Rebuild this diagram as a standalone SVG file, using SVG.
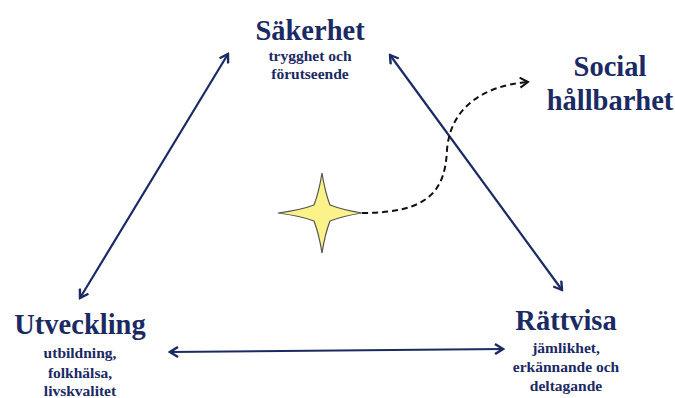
<svg xmlns="http://www.w3.org/2000/svg" width="675" height="398" viewBox="0 0 675 398">
<style>
.t{font-family:"Liberation Serif","Times New Roman",serif;font-weight:bold;fill:#1b2a63;text-anchor:middle}
.h{font-size:28.5px}
.s{font-size:15.5px}
.ln{stroke:#1b2a63;stroke-width:2.2;fill:none}
</style>
<defs>
<marker id="ah" viewBox="0 0 12 12" refX="10" refY="6" markerWidth="12" markerHeight="12" markerUnits="userSpaceOnUse" orient="auto-start-reverse">
<path d="M2,1 L10,6 L2,11" fill="none" stroke="#1b2a63" stroke-width="2.4"/>
</marker>
<marker id="ak" viewBox="0 0 12 12" refX="10" refY="6" markerWidth="12" markerHeight="12" markerUnits="userSpaceOnUse" orient="auto">
<path d="M2,1 L10,6 L2,11" fill="none" stroke="#111" stroke-width="2"/>
</marker>
</defs>
<rect width="675" height="398" fill="#fff"/>
<g id="connectors">
<line class="ln" x1="80" y1="298" x2="228" y2="54" marker-start="url(#ah)" marker-end="url(#ah)"/>
<line class="ln" x1="390" y1="55" x2="562" y2="290" marker-start="url(#ah)" marker-end="url(#ah)"/>
<line class="ln" x1="170" y1="352" x2="503" y2="349" marker-start="url(#ah)" marker-end="url(#ah)"/>
<path d="M362,213 C430,213 445,190 447,150 C450,110 480,86 528,82" fill="none" stroke="#111" stroke-width="2" stroke-dasharray="6,4" marker-end="url(#ak)"/>
</g>
<g id="star">
<path d="M322,173 Q325,192 330,205 Q343,210 362,213 Q343,216 330,221 Q325,234 322,253 Q319,234 314,221 Q301,216 278,213 Q301,210 314,205 Q319,192 322,173 Z" fill="#fbf28a" stroke="#555" stroke-width="1.2"/>
</g>
<g id="sakerhet">
<text class="t h" x="310" y="40">Säkerhet</text>
<text class="t s" x="310" y="61">trygghet och</text>
<text class="t s" x="310" y="79">förutseende</text>
</g>
<g id="social">
<text class="t h" x="610" y="76">Social</text>
<text class="t h" x="610" y="110">hållbarhet</text>
</g>
<g id="utveckling">
<text class="t h" x="80" y="334">Utveckling</text>
<text class="t s" x="80" y="358">utbildning,</text>
<text class="t s" x="80" y="378">folkhälsa,</text>
<text class="t s" x="80" y="396">livskvalitet</text>
</g>
<g id="rattvisa">
<text class="t h" x="566" y="330">Rättvisa</text>
<text class="t s" x="566" y="353">jämlikhet,</text>
<text class="t s" x="566" y="372">erkännande och</text>
<text class="t s" x="566" y="391">deltagande</text>
</g>
</svg>
